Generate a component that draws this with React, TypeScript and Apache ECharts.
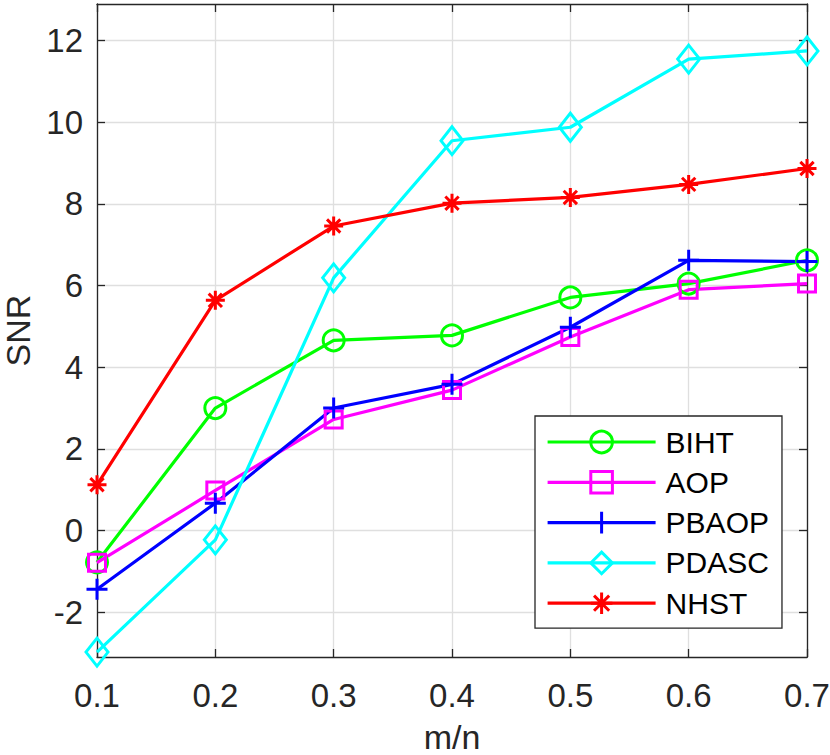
import React, { useEffect, useRef } from "react";
import * as echarts from "echarts";

const categories = ["0.1", "0.2", "0.3", "0.4", "0.5", "0.6", "0.7"];
const yTicks = [-2, 0, 2, 4, 6, 8, 10, 12];
const bihtValues = [-0.78, 3.0, 4.66, 4.78, 5.71, 6.05, 6.62];
const aopValues = [-0.79, 0.98, 2.72, 3.44, 4.74, 5.9, 6.05];
const pbaopValues = [-1.44, 0.67, 3.0, 3.58, 4.98, 6.62, 6.59];
const pdascValues = [-2.98, -0.23, 6.19, 9.55, 9.88, 11.55, 11.75];
const nhstValues = [1.12, 5.64, 7.46, 8.02, 8.16, 8.48, 8.87];

const FONT = "'Liberation Sans', Arial, Helvetica, sans-serif";
const AX = "#262626";
const PLUS = "path://M5,0L5,10M0,5L10,5";
const STAR = "path://M5,0L5,10M0,5L10,5M1.5,1.5L8.5,8.5M1.5,8.5L8.5,1.5";

function mk(name: string, data: number[], color: string, symbol: string, size: any) {
  return {
    name,
    type: "line",
    data,
    symbol,
    symbolSize: size,
    showAllSymbol: true,
    lineStyle: { color, width: 3.2 },
    itemStyle: { color: "rgba(0,0,0,0)", borderColor: color, borderWidth: 3 },
    emphasis: { disabled: true },
    z: 3,
  };
}

export default function App() {
  const ref = useRef<HTMLDivElement>(null);
  useEffect(() => {
    document.body.style.margin = "0";
    const chart = echarts.init(ref.current!, undefined, { renderer: "svg" });
    const yCommon = {
      type: "value",
      min: -3.1,
      max: 12.9,
      axisLine: { show: true, lineStyle: { color: AX, width: 1.3 } },
      axisTick: { show: true, inside: true, length: 8, customValues: yTicks, lineStyle: { color: AX, width: 1.3 } },
    };
    const xCommon = {
      type: "category",
      data: categories,
      boundaryGap: false,
      axisLine: { show: true, onZero: false, lineStyle: { color: AX, width: 1.3 } },
      axisTick: { show: true, inside: true, length: 8, alignWithLabel: true, lineStyle: { color: AX, width: 1.3 } },
    };
    chart.setOption({
      animation: false,
      backgroundColor: "#fff",
      grid: { left: 97, right: 23, top: 4, bottom: 98, containLabel: false, outerBoundsMode: "none" },
      xAxis: [
        {
          ...xCommon,
          position: "bottom",
          name: "m/n",
          nameLocation: "middle",
          nameGap: 63,
          nameTextStyle: { fontFamily: FONT, fontSize: 34, color: AX },
          axisLabel: { fontFamily: FONT, fontSize: 33, color: AX, margin: 22 },
          splitLine: { show: true, lineStyle: { color: "#dfdfdf", width: 1.3 } },
        },
        {
          ...xCommon,
          position: "top",
          axisLabel: { show: false },
          splitLine: { show: false },
        },
      ],
      yAxis: [
        {
          ...yCommon,
          position: "left",
          name: "SNR",
          nameLocation: "middle",
          nameGap: 62,
          nameTextStyle: { fontFamily: FONT, fontSize: 34, color: AX },
          axisLabel: { fontFamily: FONT, fontSize: 33, color: AX, margin: 14, customValues: yTicks },
          splitLine: { show: true, lineStyle: { color: "#dfdfdf", width: 1.3 } },
        },
        {
          ...yCommon,
          position: "right",
          axisLabel: { show: false },
          splitLine: { show: false },
        },
      ],
      legend: {
        orient: "vertical",
        left: 535,
        top: 416,
        padding: [11, 13, 10, 11],
        itemWidth: 108,
        itemHeight: 27,
        itemGap: 10.3,
        borderColor: AX,
        borderWidth: 1.3,
        backgroundColor: "#fff",
        lineStyle: { width: 3.2 },
        itemStyle: { borderWidth: 3 },
        textStyle: { fontFamily: FONT, fontSize: 30, color: "#000", padding: [0, 0, 0, 5], lineHeight: 30 },
        data: ["BIHT", "AOP", "PBAOP", "PDASC", "NHST"],
      },
      series: [
        mk("BIHT", bihtValues, "#00ff00", "circle", 21),
        mk("AOP", aopValues, "#ff00ff", "rect", 17),
        mk("PBAOP", pbaopValues, "#0000ff", PLUS, 21),
        mk("PDASC", pdascValues, "#00ffff", "diamond", [22, 28]),
        mk("NHST", nhstValues, "#ff0000", STAR, 19),
      ],
    });
    return () => chart.dispose();
  }, []);
  return <div ref={ref} style={{ width: 830, height: 755 }} />;
}
